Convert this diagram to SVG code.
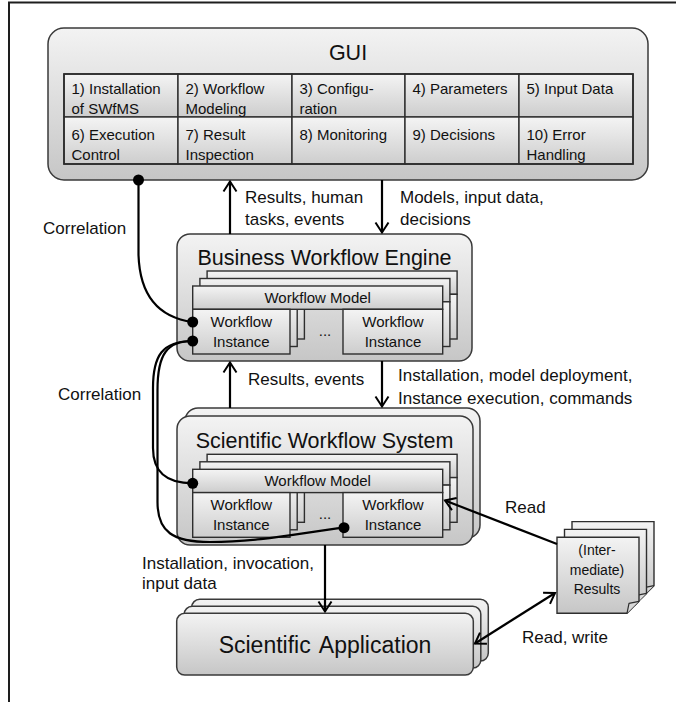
<svg xmlns="http://www.w3.org/2000/svg" xmlns:xlink="http://www.w3.org/1999/xlink" width="676" height="702" viewBox="0 0 676 702">
  <defs>
    <linearGradient id="gBox" x1="0" y1="0" x2="0" y2="1">
      <stop offset="0" stop-color="#f3f3f3"/>
      <stop offset="1" stop-color="#c6c6c6"/>
    </linearGradient>
    <linearGradient id="gCell" x1="0" y1="0" x2="0" y2="1">
      <stop offset="0" stop-color="#f4f4f4"/>
      <stop offset="1" stop-color="#cdcdcd"/>
    </linearGradient>
    <marker id="arr" viewBox="-12 -8 14 16" refX="0" refY="0" markerWidth="14" markerHeight="16" orient="auto-start-reverse" markerUnits="userSpaceOnUse">
      <path d="M-10,-6.5 L0,0 L-10,6.5" fill="none" stroke="#000" stroke-width="2"/>
    </marker>
    <!-- one layer of a workflow model with its instances -->
    <g id="stackFrame">
      <rect class="cell" x="0" y="0" width="250" height="23.3"/>
      <rect class="cell" x="0" y="23.3" width="97.3" height="44.7"/>
      <rect class="cell" x="150.3" y="23.3" width="99.7" height="44.7"/>
    </g>
    <!-- document sheet with folded corner -->
    <g id="sheet">
      <path class="doc" d="M0,0 H82 V64 L70,76 H0 Z"/>
      <path class="fold" d="M82,64 L72,66 L70,76"/>
    </g>
  </defs>
  <style>
    .box { fill: url(#gBox); stroke: #3a3a3a; stroke-width: 1.5; }
    .cell { fill: url(#gCell); stroke: #2e2e2e; stroke-width: 1.4; }
    .doc { fill: url(#gBox); stroke: #2e2e2e; stroke-width: 1.4; }
    .fold { fill: #d8d8d8; stroke: #2e2e2e; stroke-width: 1.2; stroke-linejoin: round; }
    .grid { fill: none; stroke: #2a2a2a; stroke-width: 1.6; }
    text { font-family: "Liberation Sans", Arial, sans-serif; fill: #111; }
    .t15 { font-size: 15px; }
    .lbl { font-size: 17px; }
    .title { font-size: 21.5px; text-anchor: middle; }
    .mid { text-anchor: middle; }
    .conn { fill: none; stroke: #000; stroke-width: 2.2; }
    .arrow { fill: none; stroke: #000; stroke-width: 2.2; marker-end: url(#arr); }
    .dot { fill: #000; }
  </style>

  <!-- page frame -->
  <path d="M9,702 V2.5 H676" fill="none" stroke="#1e1e1e" stroke-width="2"/>

  <!-- GUI -->
  <g id="gui">
    <rect class="box" x="48" y="28" width="600" height="152" rx="16"/>
    <text class="title" x="348" y="60" font-size="21">GUI</text>
    <g id="gui-table">
      <rect class="cell" x="64" y="74" width="114" height="43"/>
      <rect class="cell" x="178" y="74" width="114" height="43"/>
      <rect class="cell" x="292" y="74" width="113" height="43"/>
      <rect class="cell" x="405" y="74" width="114" height="43"/>
      <rect class="cell" x="519" y="74" width="114" height="43"/>
      <rect class="cell" x="64" y="117" width="114" height="47"/>
      <rect class="cell" x="178" y="117" width="114" height="47"/>
      <rect class="cell" x="292" y="117" width="113" height="47"/>
      <rect class="cell" x="405" y="117" width="114" height="47"/>
      <rect class="cell" x="519" y="117" width="114" height="47"/>
      <rect class="grid" x="64" y="74" width="569" height="90"/>
      <g class="t15">
        <text x="71.5" y="93.5">1) Installation</text>
        <text x="71.5" y="113.5">of SWfMS</text>
        <text x="185.5" y="93.5">2) Workflow</text>
        <text x="185.5" y="113.5">Modeling</text>
        <text x="299.5" y="93.5">3) Configu-</text>
        <text x="299.5" y="113.5">ration</text>
        <text x="412.5" y="93.5">4) Parameters</text>
        <text x="526.5" y="93.5">5) Input Data</text>
        <text x="71.5" y="140">6) Execution</text>
        <text x="71.5" y="160">Control</text>
        <text x="185.5" y="140">7) Result</text>
        <text x="185.5" y="160">Inspection</text>
        <text x="299.5" y="140">8) Monitoring</text>
        <text x="412.5" y="140">9) Decisions</text>
        <text x="526.5" y="140">10) Error</text>
        <text x="526.5" y="160">Handling</text>
      </g>
    </g>
  </g>

  <!-- Business Workflow Engine -->
  <g id="bwe">
    <rect class="box" x="177" y="234" width="295" height="127" rx="13"/>
    <text class="title" x="324.5" y="264.5">Business Workflow Engine</text>
    <use xlink:href="#stackFrame" x="207.1" y="271"/>
    <use xlink:href="#stackFrame" x="199.9" y="278.5"/>
    <use xlink:href="#stackFrame" x="192.7" y="286"/>
    <g class="t15">
      <text class="mid" x="317.7" y="303">Workflow Model</text>
      <text class="mid" x="241.3" y="327">Workflow</text>
      <text class="mid" x="241.3" y="347">Instance</text>
      <text class="mid" x="393" y="327">Workflow</text>
      <text class="mid" x="393" y="347">Instance</text>
      <text class="mid" x="325" y="336">...</text>
    </g>
  </g>

  <!-- Scientific Workflow System -->
  <g id="sws">
    <rect class="box" x="185" y="408" width="295" height="130" rx="13"/>
    <rect class="box" x="177" y="416" width="296" height="129" rx="13"/>
    <text class="title" x="324.5" y="447.5">Scientific Workflow System</text>
    <use xlink:href="#stackFrame" x="207.1" y="454.3"/>
    <use xlink:href="#stackFrame" x="199.9" y="461.8"/>
    <use xlink:href="#stackFrame" x="192.7" y="469.3"/>
    <g class="t15">
      <text class="mid" x="317.7" y="486.3">Workflow Model</text>
      <text class="mid" x="241.3" y="510.3">Workflow</text>
      <text class="mid" x="241.3" y="530.3">Instance</text>
      <text class="mid" x="393" y="510.3">Workflow</text>
      <text class="mid" x="393" y="530.3">Instance</text>
      <text class="mid" x="325" y="519.3">...</text>
    </g>
  </g>

  <!-- Scientific Application -->
  <g id="sciapp">
    <rect class="box" x="191.7" y="599.3" width="296.6" height="61.7" rx="8"/>
    <rect class="box" x="184.2" y="606.3" width="296.6" height="61.7" rx="8"/>
    <rect class="box" x="176.7" y="613.3" width="296.6" height="61.7" rx="8"/>
    <text class="mid" x="325" y="653" font-size="23" word-spacing="3">Scientific Application</text>
  </g>

  <!-- (Intermediate) Results documents -->
  <g id="results">
    <use xlink:href="#sheet" x="572" y="521.6"/>
    <use xlink:href="#sheet" x="564.5" y="529.4"/>
    <use xlink:href="#sheet" x="557" y="537.3"/>
    <g font-size="14">
      <text class="mid" x="597" y="555">(Inter-</text>
      <text class="mid" x="597" y="575">mediate)</text>
      <text class="mid" x="597" y="594">Results</text>
    </g>
  </g>

  <!-- connectors -->
  <g id="connectors">
    <path class="arrow" d="M230,234 V181.5"/>
    <path class="arrow" d="M382,180 V232.5"/>
    <path class="arrow" d="M230,408 V362.5"/>
    <path class="arrow" d="M382,361 V406.5"/>
    <path class="arrow" d="M325,545 V611.5"/>
    <path class="arrow" d="M557,544 L445,500.5"/>
    <path class="conn" d="M475,643.5 L555,593" marker-start="url(#arr)" marker-end="url(#arr)"/>
    <!-- correlation links -->
    <path class="conn" d="M138.5,180 V255 C140,300 163,318 192.7,322"/>
    <path class="conn" d="M192.7,341 C162,341 153,356 153,388 V448 C153,472 166,483.3 192.7,483.3"/>
    <path class="conn" d="M192.7,341 C167,341 157.5,354 157.5,390 V502 C157.5,532 173,542 210,542 C262,542 305,532 344,527.7"/>
    <circle class="dot" cx="138.5" cy="180" r="5.5"/>
    <circle class="dot" cx="192.7" cy="322" r="5.5"/>
    <circle class="dot" cx="192.7" cy="341" r="5.5"/>
    <circle class="dot" cx="192.7" cy="483.3" r="5.5"/>
    <circle class="dot" cx="344" cy="527.7" r="5.5"/>
  </g>

  <!-- connector labels -->
  <g id="labels" class="lbl">
    <text x="43" y="234">Correlation</text>
    <text x="245" y="202.5">Results, human</text>
    <text x="245" y="225.3">tasks, events</text>
    <text x="400" y="202.5">Models, input data,</text>
    <text x="400" y="225.3">decisions</text>
    <text x="58" y="400">Correlation</text>
    <text x="248" y="385">Results, events</text>
    <text x="398" y="381">Installation, model deployment,</text>
    <text x="398" y="403.7">Instance execution, commands</text>
    <text x="505" y="512.5">Read</text>
    <text x="142" y="568.7">Installation, invocation,</text>
    <text x="142" y="589.3">input data</text>
    <text x="522" y="643.3">Read, write</text>
  </g>
</svg>
